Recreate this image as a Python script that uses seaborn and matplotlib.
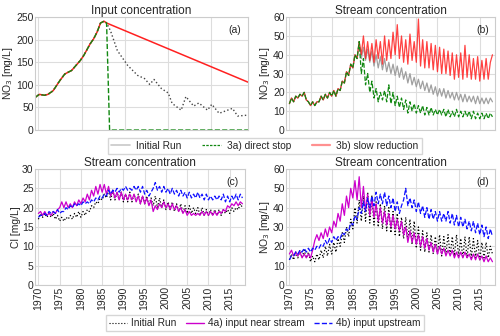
import numpy as np
import matplotlib
matplotlib.use("Agg")
import matplotlib.pyplot as plt
from matplotlib.lines import Line2D
import seaborn as sns

# ── panel (a): input concentration ────────────────────────────────────────────
a_years = [1969.2, 1970.2, 1971.4, 1972.2, 1973.4, 1975.0, 1976.1, 1977.7,
           1979.7, 1980.5, 1982.0, 1982.8, 1983.6, 1984.4, 1985.2, 1985.8]
a_common = [72, 79, 77, 79, 87, 110, 124, 132, 154, 165, 191, 202, 217, 237, 241, 237]
a_init_years = [1986.7, 1988.3, 1990.7, 1993.0, 1994.6, 1995.8, 1996.8, 1998.5,
                2000.1, 2001.0, 2003.1, 2004.2, 2006.0, 2007.2, 2009.2, 2010.2,
                2011.9, 2015.0, 2016.2, 2018.6]
a_init_vals = [220, 176, 143, 121, 114, 101, 112, 92, 82, 59, 44, 74, 53, 60,
               44, 57, 37, 48, 31, 33]
a_stop_years = [1986.5, 2018.6]
a_stop_vals = [0, 0]
a_slow_years = [2018.6]
a_slow_vals = [106]

# ── stream series, two values per year 1970.0 ... 2018.0 ─────────────────────
b_common = [14, 17, 15, 18, 17, 19, 18, 20, 16, 15,
            13, 15, 13, 15, 15, 18, 16, 19, 17, 20,
            18, 21, 18, 22, 21, 26, 25, 31, 29, 35,
            33, 40, 38, 47]
b_init = b_common + [
    38, 44, 37, 43, 36, 42, 34, 40, 33, 39,
    32, 38, 31, 36, 30, 35, 29, 34, 28, 33,
    27, 31, 25, 30, 24, 28, 23, 27, 22, 26,
    21, 25, 20, 24, 19, 23, 18, 22, 18, 22,
    17, 21, 17, 20, 16, 20, 16, 19, 15, 19,
    15, 18, 15, 18, 14, 18, 14, 17, 14, 17,
    14, 17, 15]
b_stop = b_common + [
    30, 38, 24, 30, 20, 26, 17, 22, 15, 20,
    16, 21, 15, 24, 14, 20, 13, 18, 12, 17,
    11, 16, 9, 15, 10, 14, 9, 13, 9, 13,
    8, 12, 8, 12, 8, 11, 8, 11, 8, 11,
    7, 11, 7, 10, 7, 11, 7, 10, 7, 10,
    7, 10, 6, 10, 6, 9, 6, 9, 6, 9,
    6, 9, 7]
b_slow = b_common + [
    40, 50, 38, 47, 37, 46, 36, 48, 38, 47,
    35, 50, 37, 48, 38, 52, 40, 56, 38, 50,
    36, 48, 35, 51, 37, 47, 36, 59, 34, 48,
    33, 47, 33, 46, 32, 45, 31, 44, 30, 43,
    30, 42, 29, 41, 27, 40, 28, 41, 27, 45,
    28, 40, 27, 38, 27, 39, 26, 37, 27, 38,
    27, 36, 40]

c_init = [17, 18.5, 17.5, 18.5, 17.5, 18.5, 17.5, 18.5, 17, 18,
          16.5, 17.5, 16.5, 17.5, 17, 18, 17, 18.5, 17.5, 19,
          17.5, 19, 18, 19.5, 19, 20.5, 20, 21.5, 21, 22.5,
          22, 23.5, 22.5, 24.5, 22, 24.5, 22, 24, 22, 24,
          21.5, 23.5, 21.5, 24, 21.5, 23.5, 21.5, 23.5, 21, 23,
          21, 23, 20.5, 22.5, 20.5, 23, 20, 22.5, 20, 22,
          19.5, 21.5, 19.5, 21.5, 19, 21, 19, 21, 18.5, 20.5,
          18.5, 20.5, 18.5, 20, 18.5, 20, 18, 20, 18, 19.5,
          18, 19.5, 18, 19.5, 18, 19.5, 18, 19.5, 18.5, 19.5,
          18.5, 20, 19, 20, 19.5, 21, 20]
c_near = [18.5, 19, 18, 19, 18, 18.5, 18, 19, 18.5, 19.5,
          20, 21.5, 20, 21.5, 20, 21, 20, 21.5, 20.5, 22,
          21, 22.5, 21.5, 23.5, 22, 24.5, 23, 25.5, 23.5, 26,
          24, 26, 23.5, 25.5, 23, 24.5, 22.5, 24, 22, 24,
          22, 23.5, 22, 23.5, 22, 23.5, 21.5, 23, 21, 23,
          21, 22.5, 20.5, 22, 19, 20.5, 19.5, 21, 20, 21.5,
          20, 21, 19.5, 21, 19.5, 20.5, 19, 20, 18.5, 19.5,
          18, 19, 18, 18.5, 18, 18.5, 18, 19, 18, 19,
          18, 19, 18, 19, 18, 19, 18.5, 19.5, 19, 20.5,
          20, 21, 20.5, 21.5, 20.5, 21.5, 21]
c_up = [17.5, 18, 18, 18.5, 18, 19, 18.5, 19, 18.5, 19.5,
        18.5, 19, 19, 20, 19.5, 20.5, 20, 21, 20.5, 21,
        20.5, 21.5, 21, 21.5, 21, 22, 21.5, 22.5, 22, 23,
        22.5, 23.5, 23, 24.5, 23.5, 24.5, 24, 25, 24, 25,
        24.5, 25.5, 24.5, 25, 24.5, 25.5, 24.5, 25.5, 24, 25.5,
        23.5, 24.5, 23, 24, 25, 26.5, 24.5, 25.5, 24, 25.5,
        24, 25, 23.5, 25, 23.5, 24.5, 23, 24.5, 23, 24,
        22.5, 24, 22.5, 23.5, 22.5, 24, 22.5, 23.5, 22, 23.5,
        22, 23, 22, 23, 22, 23, 22, 23.5, 21.5, 23,
        21.5, 23, 22, 23.5, 22, 23.5, 22.5]

d_init = [13, 16, 13, 17, 14, 18, 14, 18, 14, 17,
          12, 15, 12, 16, 13, 18, 14, 20, 15, 21,
          16, 22, 17, 24, 20, 27, 22, 30, 25, 34,
          29, 40, 32, 44, 33, 46, 33, 48, 32, 46,
          31, 43, 30, 42, 29, 41, 28, 40, 27, 38,
          26, 37, 25, 35, 24, 35, 23, 34, 21, 33,
          19, 30, 18, 28, 17, 27, 17, 26, 16, 25,
          16, 26, 15, 25, 16, 26, 15, 25, 15, 26,
          15, 24, 14, 25, 14, 25, 14, 24, 14, 23,
          13, 22, 14, 22, 14, 20, 16]
d_near = [16, 18, 15, 17, 15, 17, 14, 16, 14, 16,
          14, 18, 23, 26, 23, 27, 24, 29, 25, 30,
          27, 33, 30, 37, 33, 42, 36, 46, 40, 50,
          45, 54, 44, 56, 40, 51, 38, 47, 36, 45,
          35, 42, 33, 40, 32, 38, 31, 37, 30, 36,
          29, 34, 28, 33, 26, 30, 22, 28, 22, 27,
          21, 26, 20, 25, 19, 24, 18, 22, 17, 21,
          16, 20, 16, 19, 15, 18, 15, 18, 14, 17,
          14, 17, 14, 17, 14, 16, 13, 16, 13, 16,
          13, 15, 12, 15, 12, 14, 12]
d_up = [13, 15, 15, 17, 16, 18, 17, 19, 17, 19,
        17, 19, 18, 20, 19, 21, 20, 23, 21, 24,
        22, 25, 23, 25, 24, 27, 26, 29, 28, 32,
        31, 36, 34, 40, 37, 43, 38, 45, 40, 46,
        41, 48, 42, 47, 42, 48, 41, 46, 40, 45,
        38, 43, 37, 41, 44, 50, 41, 45, 40, 44,
        38, 43, 37, 41, 35, 40, 34, 39, 34, 38,
        33, 38, 33, 37, 33, 38, 32, 37, 31, 36,
        30, 35, 30, 34, 29, 33, 28, 33, 27, 32,
        26, 31, 25, 30, 24, 29, 25]

years = np.arange(1970, 2018.01, 0.5)

# ── style ─────────────────────────────────────────────────────────────────────
sns.set_style("whitegrid", {"grid.color": "#dddddd", "axes.edgecolor": "#cccccc"})
plt.rcParams["font.family"] = ["Liberation Sans", "DejaVu Sans"]
plt.rcParams["font.size"] = 7.5

GREY = "#a0a0a0"
GREEN = "#118811"
RED = "#ff2020"
MAGENTA = "#cc00cc"
BLUE = "#1010ff"
XLIM = (1969.2, 2018.6)

fig = plt.figure(figsize=(5.0, 3.36), dpi=100)
ax_a = fig.add_axes([0.070, 0.613, 0.426, 0.336])
ax_b = fig.add_axes([0.572, 0.613, 0.418, 0.336])
ax_c = fig.add_axes([0.070, 0.152, 0.420, 0.345])
ax_d = fig.add_axes([0.572, 0.152, 0.418, 0.345])


def line(ax, x, y, **kw):
    sns.lineplot(x=np.asarray(x, dtype=float), y=np.asarray(y, dtype=float),
                 ax=ax, estimator=None, sort=False, legend=False, **kw)


# (a)
line(ax_a, a_years + a_init_years, a_common + a_init_vals,
     color="#444444", linestyle=":", linewidth=1.0)
line(ax_a, a_years + a_slow_years, a_common + a_slow_vals, color=RED, linewidth=1.1)
line(ax_a, a_years + a_stop_years, a_common + a_stop_vals,
     color=GREEN, linestyle="--", linewidth=1.0)

# (b)
line(ax_b, years, b_init, color=GREY, linewidth=0.9)
line(ax_b, years, b_slow, color=RED, linewidth=0.9, alpha=0.85)
line(ax_b, years, b_stop, color=GREEN, linestyle="--", linewidth=0.9)

# (c)
line(ax_c, years, c_init, color="black", linestyle=":", linewidth=0.9)
line(ax_c, years, c_near, color=MAGENTA, linewidth=0.9)
line(ax_c, years, c_up, color=BLUE, linestyle="--", linewidth=0.9)

# (d)
line(ax_d, years, d_init, color="black", linestyle=":", linewidth=0.9)
line(ax_d, years, d_near, color=MAGENTA, linewidth=0.9)
line(ax_d, years, d_up, color=BLUE, linestyle="--", linewidth=0.9)

panels = [
    (ax_a, "Input concentration", "NO$_3$ [mg/L]", (0, 250), 50, "(a)"),
    (ax_b, "Stream concentration", "NO$_3$ [mg/L]", (0, 60), 10, "(b)"),
    (ax_c, "Stream concentration", "Cl [mg/L]", (0, 30), 5, "(c)"),
    (ax_d, "Stream concentration", "NO$_3$ [mg/L]", (0, 60), 10, "(d)"),
]
for ax, title, ylab, ylim, ystep, tag in panels:
    ax.set_xlim(*XLIM)
    ax.set_ylim(*ylim)
    ax.set_yticks(np.arange(ylim[0], ylim[1] + 0.1, ystep))
    ax.set_title(title, fontsize=8.5, pad=2)
    ax.set_ylabel(ylab, fontsize=7.5, labelpad=1)
    ax.set_xlabel("")
    ax.tick_params(axis="both", labelsize=7.5, pad=1, length=0)
    ax.text(0.97, 0.93, tag, transform=ax.transAxes, ha="right", va="top", fontsize=7.5)
    for s in ax.spines.values():
        s.set_color("#cccccc")
        s.set_linewidth(0.8)

ax_a.set_xticks(np.arange(1970, 2011, 10))
ax_a.set_xticklabels([])
ax_b.set_xticks(np.arange(1970, 2016, 5))
ax_b.set_xticklabels([])
for ax in (ax_c, ax_d):
    ax.set_xticks(np.arange(1970, 2016, 5))
    ax.set_xticklabels([str(y) for y in range(1970, 2016, 5)], rotation=90)

top_handles = [
    Line2D([], [], color="#c8c8c8", linewidth=1.2),
    Line2D([], [], color=GREEN, linestyle="--", linewidth=0.9, dashes=(2, 1)),
    Line2D([], [], color="#ff9090", linewidth=1.6),
]
fig.legend(top_handles, ["Initial Run", "3a) direct stop", "3b) slow reduction"],
           loc="center", bbox_to_anchor=(0.53, 0.566), ncol=3, fontsize=7.3,
           frameon=True, edgecolor="#cccccc", fancybox=False, borderpad=0.3,
           handlelength=1.8, columnspacing=2.1, handletextpad=0.6)

bot_handles = [
    Line2D([], [], color="black", linestyle=":", linewidth=0.8),
    Line2D([], [], color=MAGENTA, linewidth=1.0),
    Line2D([], [], color=BLUE, linestyle="--", linewidth=1.0),
]
fig.legend(bot_handles, ["Initial Run", "4a) input near stream", "4b) input upstream"],
           loc="center", bbox_to_anchor=(0.53, 0.038), ncol=3, fontsize=7.3,
           frameon=True, edgecolor="#cccccc", fancybox=False, borderpad=0.3,
           handlelength=1.8, columnspacing=0.9, handletextpad=0.4)

fig.savefig("out.png", dpi=100)
